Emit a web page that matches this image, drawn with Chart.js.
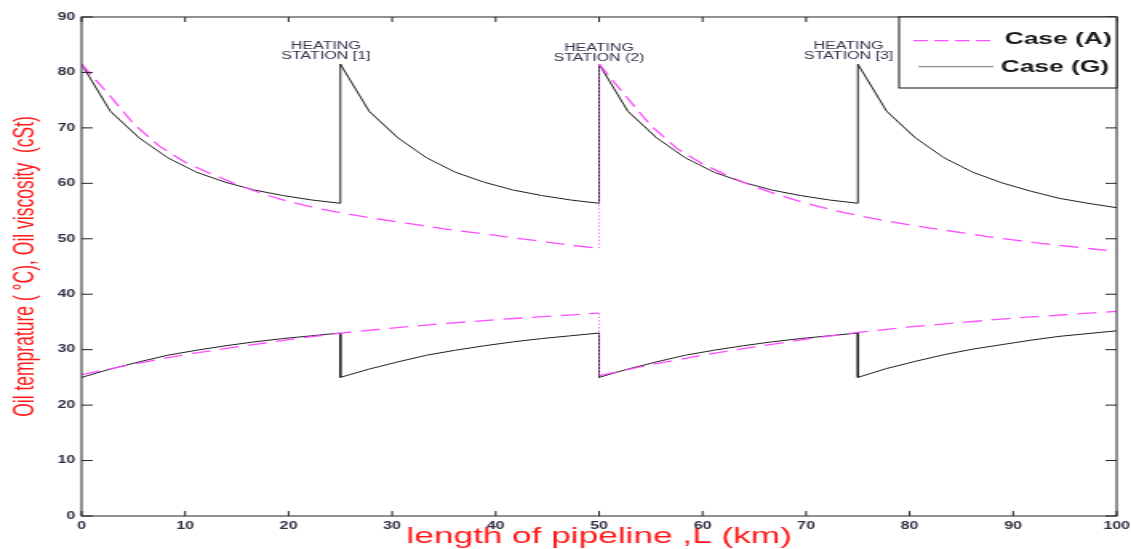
<!DOCTYPE html>
<html>
<head>
<meta charset="utf-8">
<script src="https://cdn.jsdelivr.net/npm/chart.js@4/dist/chart.umd.min.js"></script>
<style>
  html, body { margin: 0; padding: 0; background: #fff; overflow: hidden; }
  /* the source figure is stretched sideways, so the canvas is drawn narrow and widened */
  #wrap { width: 707px; height: 549px; transform: scaleX(1.59972); transform-origin: 0 0; }
</style>
</head>
<body>
<div id="wrap"><canvas id="chart" width="707" height="549"></canvas></div>
<script>
// Case (A): viscosity sampled every 2.5 km, temperature every 5 km
var distViscA = [0, 2.5, 5, 7.5, 10, 12.5, 15, 17.5, 20, 22.5, 25, 27.5, 30, 32.5, 35, 37.5, 40, 42.5, 45, 47.5, 50,
                 50, 52.5, 55, 57.5, 60, 62.5, 65, 67.5, 70, 72.5, 75, 77.5, 80, 82.5, 85, 87.5, 90, 92.5, 95, 97.5, 100];
var viscA = [81.5, 76.3, 70.8, 66.7, 63.8, 61.7, 59.8, 58.1, 56.7, 55.6, 54.7, 53.9, 53.2, 52.5, 51.8, 51.2, 50.6, 50.0, 49.4, 48.8, 48.3,
             81.5, 75.9, 70.4, 66.3, 63.5, 61.3, 59.4, 57.8, 56.4, 55.2, 54.2, 53.3, 52.5, 51.8, 51.1, 50.4, 49.8, 49.2, 48.7, 48.2, 47.7];

var distTempA = [0, 5, 10, 15, 20, 25, 30, 35, 40, 45, 50,
                 50, 55, 60, 65, 70, 75, 80, 85, 90, 95, 100];
var tempA = [25.5, 27.4, 29.1, 30.5, 31.8, 33.0, 33.9, 34.7, 35.4, 36.0, 36.6,
             25.3, 27.3, 29.0, 30.5, 31.9, 33.1, 34.1, 34.9, 35.7, 36.3, 36.9];

// Case (G): reheated at 25, 50 and 75 km
var distG = [0, 2.78, 5.56, 8.33, 11.11, 13.89, 16.67, 19.44, 22.22, 25,
             25, 27.78, 30.56, 33.33, 36.11, 38.89, 41.67, 44.44, 47.22, 50,
             50, 52.78, 55.56, 58.33, 61.11, 63.89, 66.67, 69.44, 72.22, 75,
             75, 77.78, 80.56, 83.33, 86.11, 88.89, 91.67, 94.44, 97.22, 100];
var viscG = [81.5, 73.0, 68.2, 64.6, 62.0, 60.2, 58.8, 57.8, 57.0, 56.4,
             81.5, 73.0, 68.2, 64.6, 62.0, 60.2, 58.8, 57.8, 57.0, 56.4,
             81.5, 73.0, 68.2, 64.6, 62.0, 60.2, 58.8, 57.8, 57.0, 56.4,
             81.5, 73.0, 68.2, 64.6, 62.0, 60.1, 58.6, 57.3, 56.4, 55.6];
var tempG = [25.0, 26.5, 27.8, 29.0, 29.9, 30.7, 31.4, 32.0, 32.5, 33.0,
             25.0, 26.5, 27.8, 29.0, 29.9, 30.7, 31.4, 32.0, 32.5, 33.0,
             25.0, 26.5, 27.8, 29.0, 29.9, 30.7, 31.4, 32.0, 32.5, 33.0,
             25.0, 26.6, 27.9, 29.1, 30.1, 30.9, 31.7, 32.4, 32.9, 33.4];

var seriesNames = ['Case (A)', 'Case (G)'];
var stationNames = ['STATION [1]', 'STATION (2)', 'STATION [3]'];
var stationKm = [25, 50, 75];

var yTitle = 'Oil temprature ( \u00B0C), Oil viscosity  (cSt)';
var xTitle = 'length of pipeline ,L (km)';

var colorA = '#ff4dff', colorG = '#1e1e1e';

function toPoints(xs, ys) {
    var pts = [];
    for (let i = 0; i < xs.length; i++) {
        pts.push({x: xs[i], y: ys[i]});
    }
    return pts;
}

function isJump(ctx) {
    return ctx.p0.parsed.x === ctx.p1.parsed.x;
}

function lineSet(label, pts, color, dash, width) {
    return {
        label: label,
        data: pts,
        borderColor: color,
        borderWidth: width,
        borderDash: dash,
        pointRadius: 0,
        tension: 0,
        fill: false
    };
}

// box frame with inward ticks, station notes and the boxed legend
var decorPlugin = {
    id: 'decor',
    afterDatasetsDraw: function (chart) {
        var ctx = chart.ctx, a = chart.chartArea;
        var xs = chart.scales.x, ys = chart.scales.y;
        ctx.save();
        ctx.strokeStyle = '#222';
        ctx.lineWidth = 1;
        ctx.strokeRect(a.left, a.top, a.right - a.left, a.bottom - a.top);
        ctx.beginPath();
        xs.ticks.forEach(t => {
            var px = xs.getPixelForValue(t.value);
            ctx.moveTo(px, a.bottom); ctx.lineTo(px, a.bottom - 5);
            ctx.moveTo(px, a.top); ctx.lineTo(px, a.top + 5);
        });
        ys.ticks.forEach(t => {
            var py = ys.getPixelForValue(t.value);
            ctx.moveTo(a.left, py); ctx.lineTo(a.left + 7, py);
            ctx.moveTo(a.right, py); ctx.lineTo(a.right - 7, py);
        });
        ctx.stroke();

        // HEATING STATION notes, offsets in km from each station
        var noteShift = [-1.4, 0, -0.9];
        var noteTop = [46.7, 48.3, 46.7];
        ctx.fillStyle = '#34304a';
        ctx.font = '10px "Liberation Sans", Arial, sans-serif';
        ctx.textAlign = 'center';
        ctx.textBaseline = 'middle';
        for (let i = 0; i < stationKm.length; i++) {
            var cx = xs.getPixelForValue(stationKm[i] + noteShift[i]);
            ctx.fillText('HEATING', cx, noteTop[i]);
            ctx.fillText(stationNames[i], cx, noteTop[i] + 9.5);
        }

        // legend box in the top right corner
        var lx = 562, ly = a.top, lw = a.right - lx, lh = 71;
        ctx.fillStyle = '#fff';
        ctx.fillRect(lx, ly, lw, lh);
        ctx.strokeStyle = '#111';
        ctx.strokeRect(lx, ly, lw, lh);

        ctx.lineWidth = 1.3;
        ctx.strokeStyle = colorA;
        ctx.setLineDash([9, 4]);
        ctx.beginPath();
        ctx.moveTo(571, 40.7); ctx.lineTo(622, 40.7);
        ctx.stroke();
        ctx.setLineDash([]);
        ctx.strokeStyle = '#777';
        ctx.lineWidth = 1;
        ctx.beginPath();
        ctx.moveTo(574, 66.7); ctx.lineTo(621, 66.7);
        ctx.stroke();

        ctx.fillStyle = '#1a1a1a';
        ctx.font = 'bold 16.5px "Liberation Sans", Arial, sans-serif';
        ctx.textAlign = 'left';
        ctx.fillText(seriesNames[0], 628, 39.5);
        ctx.fillText(seriesNames[1], 625.5, 67);
        ctx.restore();
    }
};

var tickFont = {family: '"Liberation Sans", Arial, sans-serif', size: 10, weight: 'bold'};
var titleFontY = {family: '"Liberation Sans", Arial, sans-serif', size: 17.5};
var titleFontX = {family: '"Liberation Sans", Arial, sans-serif', size: 22};

var setA1 = lineSet(seriesNames[0], toPoints(distViscA, viscA), colorA, [12, 6], 1.3);
var setA2 = lineSet(seriesNames[0], toPoints(distTempA, tempA), colorA, [12, 6], 1.3);
// the reheating jump of case (A) shows only as a faint dotted rise
[setA1, setA2].forEach(ds => {
    ds.segment = {
        borderDash: c => isJump(c) ? [1.5, 2] : undefined,
        borderWidth: c => isJump(c) ? 0.8 : undefined
    };
});

new Chart(document.getElementById('chart'), {
    type: 'line',
    data: {
        datasets: [
            setA1,
            setA2,
            lineSet(seriesNames[1], toPoints(distG, viscG), colorG, [], 1),
            lineSet(seriesNames[1], toPoints(distG, tempG), colorG, [], 1)
        ]
    },
    options: {
        responsive: false,
        animation: false,
        devicePixelRatio: 1,
        layout: {padding: {top: 17, right: 9, left: 0, bottom: 0}},
        plugins: {
            legend: {display: false},
            tooltip: {enabled: false}
        },
        scales: {
            x: {
                type: 'linear',
                min: 0,
                max: 100,
                afterFit: function (scale) {
                    scale.height = 33;
                    scale.paddingLeft = 0;
                    scale.paddingRight = 0;
                },
                grid: {display: false, drawTicks: false},
                border: {display: false},
                ticks: {stepSize: 10, autoSkip: false, maxRotation: 0, padding: 4, color: '#2e2e40', font: tickFont},
                title: {display: true, text: xTitle, color: '#ff1a1a', font: titleFontX, padding: {top: 0, bottom: -1}}
            },
            y: {
                min: 0,
                max: 90,
                afterFit: function (scale) { scale.width = 51; },
                grid: {display: false, drawTicks: false},
                border: {display: false},
                ticks: {stepSize: 10, padding: 4, color: '#2e2e40', font: tickFont},
                title: {display: true, text: yTitle, color: '#ff1a1a', font: titleFontY, padding: {top: 6, bottom: 0}}
            }
        }
    },
    plugins: [decorPlugin]
});
</script>
</body>
</html>
